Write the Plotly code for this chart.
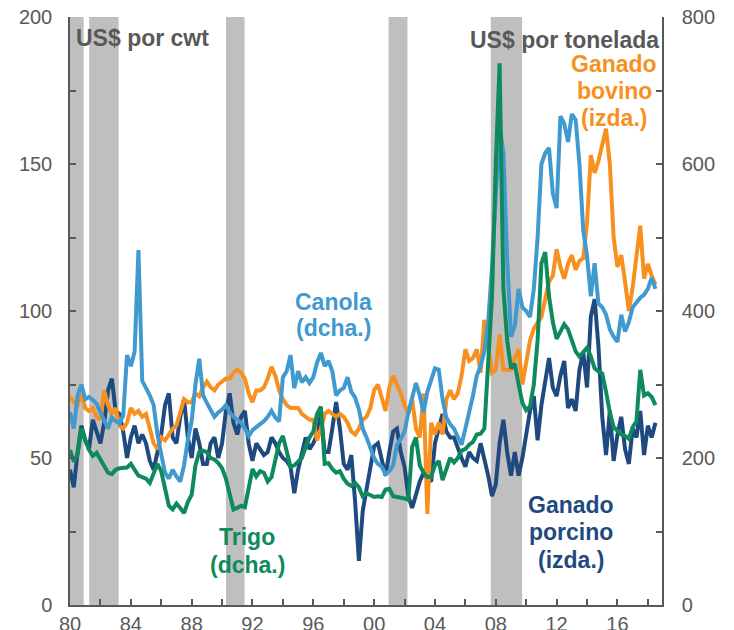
import plotly.graph_objects as go

# ---------------- data (quarterly readings, starting 1980 Q1) ----------------
start_year = 1980
step_years = 0.25

# Ganado bovino, US$ por cwt (left axis)
bovino = [
    71, 69, 68, 72,   67, 66, 67, 64,   63, 73, 68, 65,   67, 61, 60, 62,   # 80-83
    67, 65, 66, 64,   65, 60, 55, 53,   57, 56, 58, 60,   61, 66, 70, 69,   # 84-87
    69, 72, 71, 74,   76, 74, 73, 75,   76, 77, 77, 79,   80, 79, 77, 72,   # 88-91
    69, 73, 73, 74,   77, 81, 78, 73,   70, 68, 67, 67,   67, 65, 64, 63,   # 92-95
    63, 56, 60, 65,   66, 65, 64, 65,   64, 62, 59, 58,   60, 63, 64, 67,   # 96-99
    73, 75, 70, 66,   74, 78, 75, 72,   68, 65, 70, 60,   57, 72, 31, 62,   # 00-03
    58, 62, 58, 70,   73, 70, 72, 78,   87, 83, 84, 87,   79, 97, 88, 79,   # 04-07
    80, 92, 80, 80,   80, 84, 87, 75,   83, 90, 94, 96,   98, 104, 110, 112,  # 08-11
    121, 115, 111, 116, 119, 114, 117, 118, 130, 153, 147, 151, 156, 162, 150, 125,  # 12-15
    115, 119, 110, 100, 108, 118, 129, 111, 116, 112, 109,                     # 16-18
]

# Ganado porcino, US$ por cwt (left axis)
porcino = [
    46, 40, 52, 61,   56, 53, 63, 59,   55, 62, 73, 77,   66, 65, 59, 50,
    57, 61, 55, 58,   55, 49, 46, 52,   58, 68, 72, 57,   55, 64, 70, 57,
    50, 60, 55, 48,   48, 55, 57, 50,   55, 66, 72, 62,   58, 64, 66, 55,
    49, 55, 53, 51,   52, 57, 55, 52,   50, 49, 47, 38,   46, 52, 57, 53,
    55, 58, 65, 52,   52, 60, 69, 60,   48, 46, 51, 35,   15, 32, 40, 47,
    54, 55, 50, 44,   52, 59, 60, 52,   47, 37, 33, 38,   42, 45, 43, 42,
    55, 60, 65, 59,   57, 57, 53, 50,   47, 52, 50, 49,   55, 50, 44, 37,
    41, 55, 63, 52,   44, 52, 44, 50,   58, 66, 71, 56,   68, 76, 84, 74,
    71, 78, 83, 67,   70, 66, 80, 86,   74, 98, 104, 88,  64, 51, 66, 49,
    58, 64, 53, 48,   60, 57, 66, 51,   61, 57, 62,
]

# Canola, US$ por tonelada (right axis)
canola = [
    262, 240, 285, 300,   280, 283, 279, 274,   262, 250, 240, 255,   250, 247, 258, 340,
    325, 345, 483, 305,   295, 285, 272, 232,   205, 180, 172, 184,   175, 168, 190, 225,
    250, 300, 335, 285,   275, 265, 256, 262,   266, 272, 262, 256,   252, 248, 240, 230,
    238, 242, 246, 250,   256, 264, 255, 250,   310, 318, 340, 295,   318, 303, 310, 302,
    310, 330, 343, 325,   332, 318, 285, 292,   295, 310, 290, 282,   266, 240, 228, 215,
    200, 192, 188, 178,   182, 190, 218, 226,   236, 262, 285, 302,   285, 262, 290, 305,
    322, 320, 280, 255,   246, 240, 230, 218,   240, 262, 285, 312,   325, 345, 385, 460,
    560, 652, 615, 470,   365, 380, 430, 405,   400, 392, 430, 500,   600, 615, 622, 560,
    540, 665, 655, 630,   668, 660, 600, 510,   475, 420, 465, 410,   405, 395, 375, 365,
    358, 395, 372, 385,   405, 412, 418, 422,   430, 445, 430,
]

# Trigo, US$ por tonelada (right axis)
trigo = [
    211, 195, 205, 240,   225, 211, 203, 207,   198, 188, 180, 178,   184, 186, 186, 187,
    192, 183, 176, 174,   172, 166, 180, 192,   182, 160, 135, 130,   138, 132, 125, 140,
    150, 190, 208, 210,   208, 200, 198, 193,   186, 172, 150, 130,   132, 135, 133, 160,
    185, 175, 182, 180,   168, 174, 195, 220,   230, 210, 188, 190,   195, 200, 215, 228,
    236, 260, 270, 192,   193, 185, 180, 182,   172, 165, 162, 166,   160, 148, 152, 150,
    147, 148, 147, 157,   158, 148, 147, 147,   145, 143, 215, 228,   190, 180, 174, 175,
    190, 196, 170, 185,   200, 194, 200, 210,   212, 218, 222, 232,   233, 240, 330, 420,
    600, 737, 430, 360,   322, 328, 300, 275,   265, 270, 300, 360,   465, 480, 420, 385,
    362, 372, 382, 375,   360, 345, 338, 345,   350, 338, 322, 318,   315, 290, 262, 242,
    236, 232, 230, 226,   242, 250, 320, 285,   288, 283, 272,
]

# Recession bands (decimal years)
rec_start = [1980.0, 1981.26, 1990.26, 2000.95, 2007.67]
rec_end = [1980.9, 1983.2, 1991.48, 2002.19, 2009.73]

# Tick labels
x_tickvals = list(range(1980, 2019, 2))
x_ticktext = ["80", "", "84", "", "88", "", "92", "", "96", "", "00", "",
              "04", "", "08", "", "12", "", "16", ""]
yl_tickvals = [0, 25, 50, 75, 100, 125, 150, 175, 200]
yl_ticktext = ["0", "", "50", "", "100", "", "150", "", "200"]
yr_tickvals = [0, 100, 200, 300, 400, 500, 600, 700, 800]
yr_ticktext = ["0", "", "200", "", "400", "", "600", "", "800"]

# ---------------- figure ----------------
years = [start_year + step_years * i for i in range(len(bovino))]

C_ORANGE = "#F7901E"
C_LBLUE = "#409AD0"
C_DBLUE = "#1F4A80"
C_GREEN = "#0E8A5C"
C_GREY = "#595959"
FONT = "Liberation Sans, Arial, sans-serif"
LW = 4

fig = go.Figure()

fig.add_trace(go.Scatter(x=years, y=porcino, mode="lines", name="Ganado porcino",
                         line=dict(color=C_DBLUE, width=LW), yaxis="y"))
fig.add_trace(go.Scatter(x=years, y=canola, mode="lines", name="Canola",
                         line=dict(color=C_LBLUE, width=LW), yaxis="y2"))
fig.add_trace(go.Scatter(x=years, y=trigo, mode="lines", name="Trigo",
                         line=dict(color=C_GREEN, width=LW), yaxis="y2"))
fig.add_trace(go.Scatter(x=years, y=bovino, mode="lines", name="Ganado bovino",
                         line=dict(color=C_ORANGE, width=LW), yaxis="y"))

for s, e in zip(rec_start, rec_end):
    fig.add_shape(type="rect", xref="x", yref="paper", x0=s, x1=e, y0=0, y1=1,
                  fillcolor="#BFBFBF", line=dict(width=0), layer="below")

axis_common = dict(showgrid=False, zeroline=False, showline=True, linecolor=C_GREY,
                   linewidth=1.5, ticks="inside", ticklen=6, tickcolor=C_GREY, tickwidth=1.5,
                   automargin=False, ticklabeloverflow="allow",
                   tickfont=dict(family=FONT, size=20, color=C_GREY))

# the page body has an 8px margin, so the figure is sized to end at the window edge
fig.update_layout(
    width=726, height=622, autosize=False,
    margin=dict(l=61.5, r=72, t=9, b=25),
    plot_bgcolor="white", paper_bgcolor="white",
    showlegend=False,
    font=dict(family=FONT, color=C_GREY),
    xaxis=dict(range=[1980, 2018.93], tickmode="array", tickvals=x_tickvals,
               ticktext=x_ticktext, ticklabelstandoff=0, **axis_common),
    yaxis=dict(range=[0, 200], tickmode="array", tickvals=yl_tickvals,
               ticktext=yl_ticktext, ticklabelstandoff=12, **axis_common),
    yaxis2=dict(range=[0, 800], tickmode="array", tickvals=yr_tickvals,
                ticktext=yr_ticktext, overlaying="y", side="right", anchor="x",
                ticklabelstandoff=14, **axis_common),
)

def label(text, x, y, color, xanchor="center"):
    fig.add_annotation(text="<b>" + text + "</b>", xref="paper", yref="paper", x=x, y=y,
                       xanchor=xanchor, yanchor="middle", showarrow=False, borderpad=0,
                       font=dict(family=FONT, size=23, color=color))

label("US$ por cwt", 0.008, 0.9643, C_GREY, xanchor="left")
label("US$ por tonelada", 0.9965, 0.9609, C_GREY, xanchor="right")
label("Ganado", 0.919, 0.9201, C_ORANGE)
label("bovino", 0.919, 0.8741, C_ORANGE)
label("(izda.)", 0.919, 0.8282, C_ORANGE)
label("Canola", 0.4456, 0.5153, C_LBLUE)
label("(dcha.)", 0.4456, 0.4711, C_LBLUE)
label("Trigo", 0.2996, 0.1156, C_GREEN)
label("(dcha.)", 0.2996, 0.0680, C_GREEN)
label("Ganado", 0.8464, 0.1701, C_DBLUE)
label("porcino", 0.8464, 0.1241, C_DBLUE)
label("(izda.)", 0.8464, 0.0765, C_DBLUE)

fig.write_html("out.html")
